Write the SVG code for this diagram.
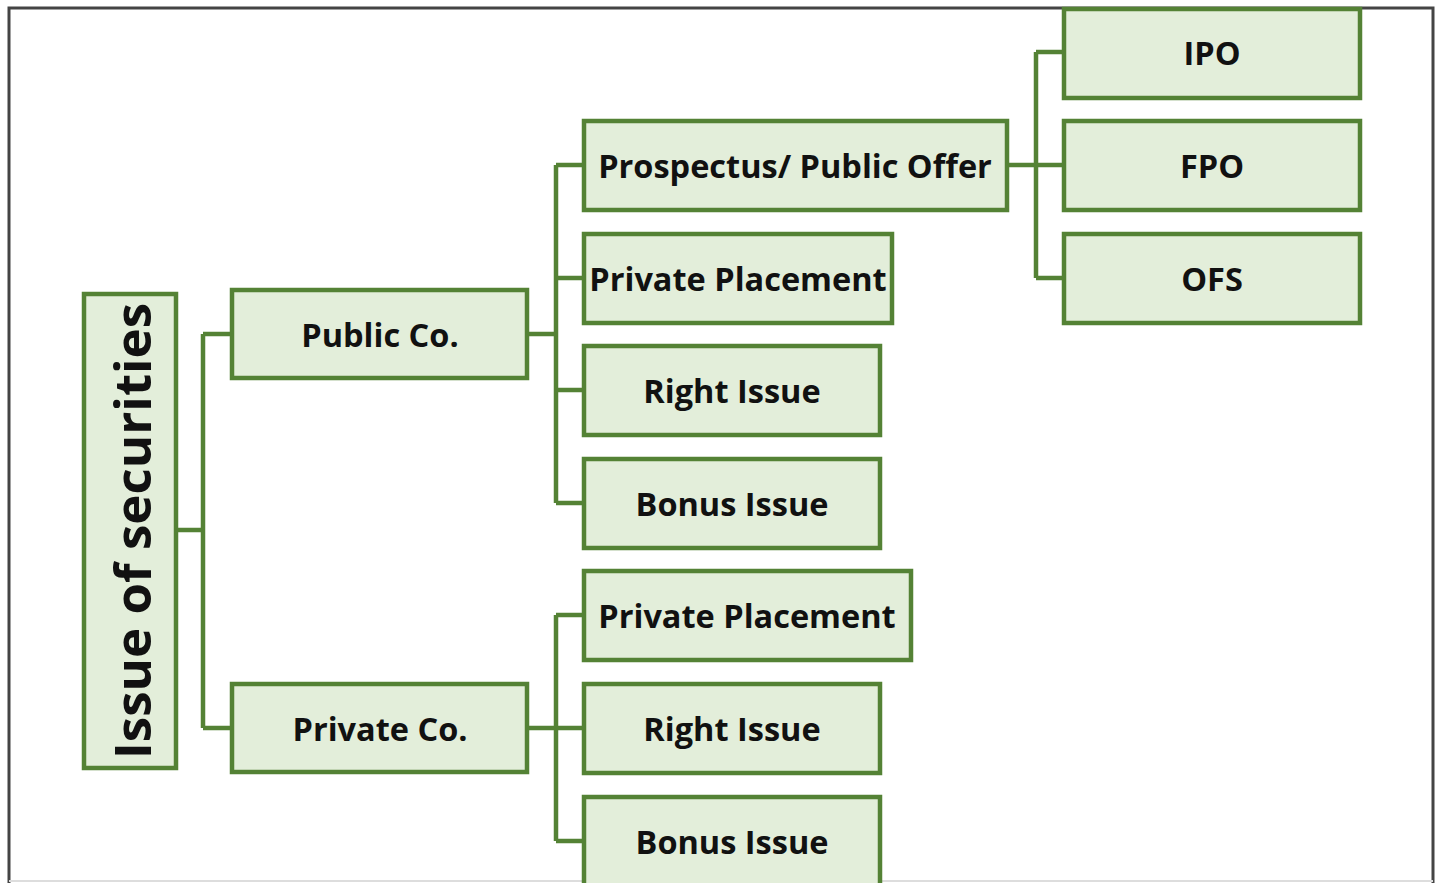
<svg xmlns="http://www.w3.org/2000/svg" width="1435" height="883" viewBox="0 0 1435 883">
<style>
.box{fill:#E3EEDA;stroke:#548235;stroke-width:4.5}
.lbl{font-family:"Open Sans","Noto Sans",sans-serif;font-weight:bold;font-size:32.5px;fill:#111;text-anchor:middle;dominant-baseline:central}
.con{fill:none;stroke:#548235;stroke-width:4.5}
</style>
<rect width="1435" height="883" fill="#fff"/>
<path d="M9,883 V8 H1433 V883" fill="none" stroke="#444" stroke-width="3"/>
<line x1="9" y1="881" x2="1433" y2="881" stroke="#ddd" stroke-width="2"/>
<g id="connectors" class="con">
<path d="M176,530 H203 M203,334 V728 M203,334 H232 M203,728 H232"/>
<path d="M527,334 H556 M556,165 V503 M556,165 H584 M556,278 H584 M556,390 H584 M556,503 H584"/>
<path d="M527,728 H556 M556,615 V841 M556,615 H584 M556,728 H584 M556,841 H584"/>
<path d="M1007,165 H1036 M1036,52 V278 M1036,52 H1064 M1036,165 H1064 M1036,278 H1064"/>
</g>
<g id="root"><rect class="box" x="84" y="294" width="92" height="474"/><text class="lbl" style="font-size:51px" transform="translate(131,531) rotate(-90)">Issue of securities</text></g>
<g id="public"><rect class="box" x="232" y="290" width="295" height="88"/><text class="lbl" x="380" y="334">Public Co.</text></g>
<g id="private"><rect class="box" x="232" y="684" width="295" height="88"/><text class="lbl" x="380" y="728">Private Co.</text></g>
<g id="prospectus"><rect class="box" x="584" y="121" width="423" height="89"/><text class="lbl" x="795" y="165">Prospectus/ Public Offer</text></g>
<g id="pub-pp"><rect class="box" x="584" y="234" width="308" height="89"/><text class="lbl" x="738" y="278">Private Placement</text></g>
<g id="pub-ri"><rect class="box" x="584" y="346" width="296" height="89"/><text class="lbl" x="732" y="390">Right Issue</text></g>
<g id="pub-bi"><rect class="box" x="584" y="459" width="296" height="89"/><text class="lbl" x="732" y="503">Bonus Issue</text></g>
<g id="priv-pp"><rect class="box" x="584" y="571" width="327" height="89"/><text class="lbl" x="747" y="615">Private Placement</text></g>
<g id="priv-ri"><rect class="box" x="584" y="684" width="296" height="89"/><text class="lbl" x="732" y="728">Right Issue</text></g>
<g id="priv-bi"><rect class="box" x="584" y="797" width="296" height="92"/><text class="lbl" x="732" y="841">Bonus Issue</text></g>
<g id="ipo"><rect class="box" x="1064" y="9" width="296" height="89"/><text class="lbl" x="1212" y="52">IPO</text></g>
<g id="fpo"><rect class="box" x="1064" y="121" width="296" height="89"/><text class="lbl" x="1212" y="165">FPO</text></g>
<g id="ofs"><rect class="box" x="1064" y="234" width="296" height="89"/><text class="lbl" x="1212" y="278">OFS</text></g>
</svg>
